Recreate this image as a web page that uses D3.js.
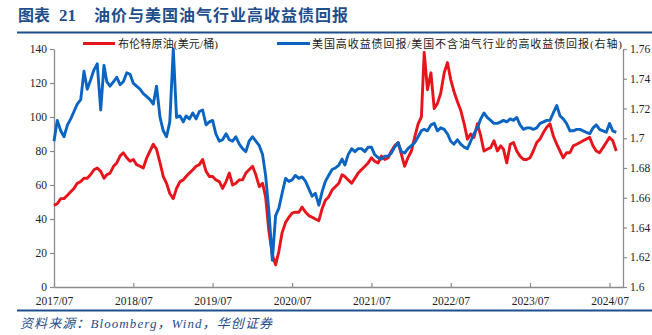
<!DOCTYPE html>
<html><head><meta charset="utf-8">
<script src="https://cdn.jsdelivr.net/npm/d3@7"></script>
<style>body{margin:0;background:#fff;} svg{display:block}</style>
</head><body><svg id="c" width="652" height="335"></svg>
<script>
const titleLabel = "图表";
const titleNum = "21";
const titleText = "油价与美国油气行业高收益债回报";
const sourceText = "资料来源：Bloomberg，Wind，华创证券";
const seriesNames = ["布伦特原油(美元/桶)", "美国高收益债回报/美国不含油气行业的高收益债回报(右轴)"];
const xTickLabels = ["2017/07","2018/07","2019/07","2020/07","2021/07","2022/07","2023/07","2024/07"];
const leftTicks = [0,20,40,60,80,100,120,140];
const rightTicks = [1.6,1.62,1.64,1.66,1.68,1.7,1.72,1.74,1.76];
const startMonth = "2017-07";
const endMonth = "2024-09";

// Brent, USD/bbl — two readings per month (1st and 16th), from 2017-07
const brent = [
 48,49, 52,52, 54,56, 58,61, 62,64, 64,66,
 69,70, 68,64, 66,67, 71,73, 77,79, 76,74,
 75,72, 71,70, 76,80, 84,81, 73,65, 61,55,
 52,58, 62,63, 65,67, 69,71, 72,75, 68,65,
 65,63, 62,58, 62,67, 60,61, 63,63, 67,69,
 71,66, 59,61, 53,33, 19,13, 21,32, 38,41,
 43.5,44, 44,47, 44,42, 41,40, 39,46, 51,53,
 57,59, 61,66, 65,63, 61,64, 67,69, 71,73,
 76,74, 73,77, 75,76, 80,83, 85,78, 71,76,
 80,88, 96,100, 138,116, 126,105, 108,114, 126,132,
 122,115, 109,104, 96,87, 90,88, 96,89, 80,81,
 82,86, 80,83, 81,73, 84,85, 80,77, 75,75,
 76,80, 85,87, 91,94, 96,89, 84,80, 76,79,
 79,83, 84,85, 86,87, 88,83, 80,79, 82,85,
 88,86, 80
];

// US HY return / US HY ex-energy return (right axis)
const hyRatio = [
 1.698,1.712, 1.705,1.701, 1.709,1.713, 1.718,1.723, 1.726,1.745, 1.733,1.739,
 1.746,1.750, 1.719,1.749, 1.738,1.735, 1.738,1.741, 1.736,1.738, 1.744,1.743,
 1.737,1.735, 1.733,1.730, 1.728,1.726, 1.723,1.735, 1.714,1.705, 1.701,1.711,
 1.760,1.714, 1.715,1.711, 1.715,1.713, 1.717,1.713, 1.718,1.719, 1.709,1.711,
 1.712,1.703, 1.698,1.699, 1.703,1.699, 1.698,1.701, 1.696,1.693, 1.691,1.698,
 1.701,1.698, 1.695,1.689, 1.675,1.651, 1.618,1.648, 1.653,1.663, 1.673,1.671,
 1.672,1.675, 1.673,1.674, 1.671,1.666, 1.661,1.663, 1.655,1.664, 1.671,1.675,
 1.679,1.680, 1.682,1.686, 1.682,1.689, 1.693,1.691, 1.693,1.693, 1.691,1.694,
 1.694,1.689, 1.687,1.686, 1.688,1.688, 1.690,1.694, 1.697,1.691, 1.690,1.693,
 1.695,1.697, 1.701,1.705, 1.706,1.705, 1.709,1.710, 1.705,1.707, 1.706,1.703,
 1.698,1.696, 1.699,1.696, 1.694,1.693, 1.698,1.703, 1.707,1.713, 1.717,1.714,
 1.712,1.710, 1.710,1.711, 1.712,1.711, 1.713,1.712, 1.714,1.709, 1.706,1.707,
 1.707,1.706, 1.707,1.710, 1.711,1.712, 1.712,1.717, 1.722,1.715, 1.713,1.710,
 1.705,1.705, 1.706,1.706, 1.705,1.704, 1.703,1.707, 1.709,1.706, 1.705,1.704,
 1.710,1.705, 1.704
];

const parseMonth = d3.timeParse("%Y-%m");
const parseTick = d3.timeParse("%Y/%m");
const start = parseMonth(startMonth);
const dates = brent.map((_, i) => d3.timeDay.offset(d3.timeMonth.offset(start, Math.floor(i / 2)), (i % 2) * 15));

const svg = d3.select("#c");
const W = 652, H = 335;
const serif = "'Liberation Serif','Noto Sans CJK SC',serif";
const navy = "#1F4E8C";
const axisColor = "#8C8C8C";
const redColor = "#E8141C";
const blueColor = "#0A64C2";

const x = d3.scaleTime().domain([start, parseMonth(endMonth)]).range([54, 623]);
const yL = d3.scaleLinear().domain([0, 140]).range([287, 49]);
const yR = d3.scaleLinear().domain([1.6, 1.76]).range([287, 49]);

// Title
svg.append("text").attr("x", 18).attr("y", 21).attr("font-family", serif)
  .attr("font-weight", "bold").attr("font-size", 16).attr("fill", navy).text(titleLabel);
svg.append("text").attr("x", 59).attr("y", 21).attr("font-family", serif)
  .attr("font-weight", "bold").attr("font-size", 17).attr("fill", navy).text(titleNum);
svg.append("text").attr("x", 94).attr("y", 21).attr("font-family", serif)
  .attr("font-weight", "bold").attr("font-size", 16).attr("fill", navy)
  .attr("textLength", 254).attr("lengthAdjust", "spacing").text(titleText);
svg.append("line").attr("x1", 17).attr("x2", W).attr("y1", 32.5).attr("y2", 32.5)
  .attr("stroke", navy).attr("stroke-width", 2.2);

// Bottom rule and source
svg.append("line").attr("x1", 17).attr("x2", W).attr("y1", 310.5).attr("y2", 310.5)
  .attr("stroke", navy).attr("stroke-width", 2.2);
svg.append("text").attr("x", 20).attr("y", 328).attr("font-family", serif)
  .attr("font-style", "italic").attr("font-size", 13).attr("fill", navy)
  .attr("textLength", 252).attr("lengthAdjust", "spacing").text(sourceText);

// Axes
const fmtR = v => String(+v.toFixed(2));
const gL = svg.append("g").attr("transform", "translate(54,0)")
  .call(d3.axisLeft(yL).tickValues(leftTicks).tickSize(4).tickPadding(3).tickSizeOuter(0));
const gR = svg.append("g").attr("transform", "translate(623,0)")
  .call(d3.axisRight(yR).tickValues(rightTicks).tickFormat(fmtR).tickSize(4).tickPadding(3).tickSizeOuter(0));
const xTickDates = xTickLabels.map(parseTick);
const gB = svg.append("g").attr("transform", "translate(0,287)")
  .call(d3.axisBottom(x).tickValues(xTickDates).tickFormat(d3.timeFormat("%Y/%m")).tickSize(-4).tickPadding(7).tickSizeOuter(0));
[gL, gR, gB].forEach(g => {
  g.select(".domain").attr("stroke", axisColor).attr("stroke-width", 1.3);
  g.selectAll(".tick line").attr("stroke", axisColor).attr("stroke-width", 1.2);
  g.selectAll("text").attr("font-family", serif).attr("font-size", 11.5).attr("fill", "#222");
});
gB.selectAll("text").attr("dy", "0.95em");

// Lines
const lineL = d3.line().x((d, i) => x(dates[i])).y(d => yL(d));
const lineR = d3.line().x((d, i) => x(dates[i])).y(d => yR(d));
svg.append("path").datum(brent).attr("d", lineL).attr("fill", "none")
  .attr("stroke", redColor).attr("stroke-width", 2.9).attr("stroke-linejoin", "round");
svg.append("path").datum(hyRatio).attr("d", lineR).attr("fill", "none")
  .attr("stroke", blueColor).attr("stroke-width", 2.9).attr("stroke-linejoin", "round");

// Legend
const legend = [
  {name: seriesNames[0], color: redColor, x1: 83, x2: 115, tx: 118, tl: 100},
  {name: seriesNames[1], color: blueColor, x1: 277, x2: 310, tx: 312, tl: 310}
];
legend.forEach(l => {
  svg.append("line").attr("x1", l.x1).attr("x2", l.x2).attr("y1", 43.5).attr("y2", 43.5)
    .attr("stroke", l.color).attr("stroke-width", 3);
  svg.append("text").attr("x", l.tx).attr("y", 47.5).attr("font-family", serif)
    .attr("font-size", 11).attr("fill", "#222")
    .attr("textLength", l.tl).attr("lengthAdjust", "spacing").text(l.name);
});
</script>
</body></html>
